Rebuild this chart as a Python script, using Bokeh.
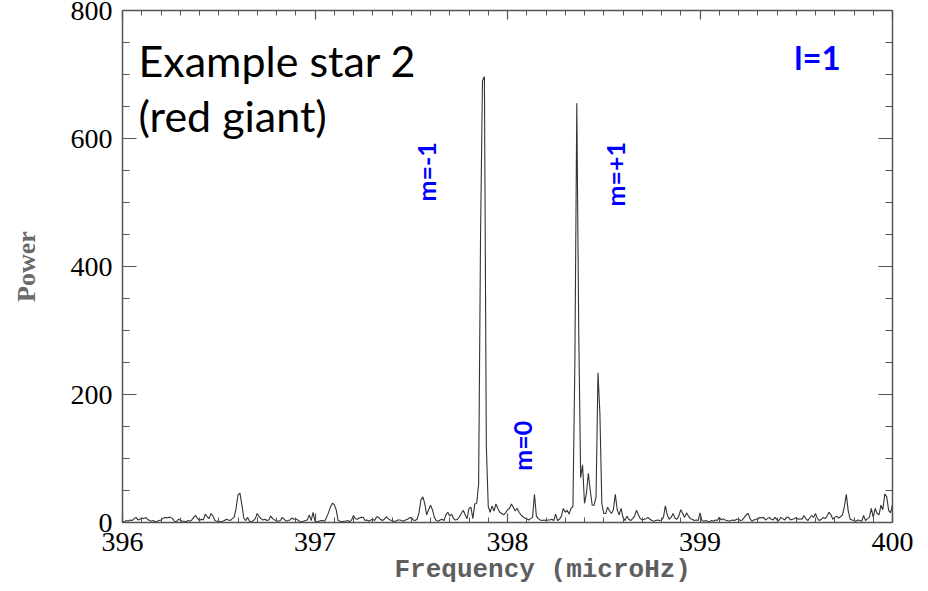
import math
import numpy as np
from bokeh.plotting import figure
from bokeh.models import (Range1d, LinearAxis, Label, SingleIntervalTicker,
                          ColumnDataSource, Title, CustomJSTickFormatter)
from bokeh.embed import file_html
from bokeh.resources import INLINE

# ---- data ----
freq_start = 396.0
freq_stop = 400.0

# power, one row per 0.1 microHz (10 samples each), starting at 396.00
power = [
    2, 1, 3, 2, 4, 3, 6, 8, 4, 5,            # 396.0x
    7, 6, 8, 5, 3, 2, 3, 1, 2, 3,            # 396.1x
    4, 6, 8, 7, 8, 8, 6, 2, 1, 5,            # 396.2x
    4, 2, 2, 1, 3, 2, 4, 8, 11, 6,           # 396.3x
    3, 5, 4, 13, 9, 6, 14, 10, 3, 2,         # 396.4x
    2, 1, 2, 3, 5, 4, 3, 6, 8, 22,           # 396.5x
    43, 46, 28, 7, 3, 8, 2, 1, 3, 6,         # 396.6x
    14, 9, 6, 4, 5, 3, 4, 10, 6, 4,          # 396.7x
    3, 2, 3, 8, 5, 2, 3, 4, 7, 5,            # 396.8x
    6, 4, 2, 1, 2, 3, 4, 12, 3, 16,          # 396.9x
    2, 1, 2, 3, 3, 2, 8, 15, 24, 30,         # 397.0x
    28, 20, 3, 2, 1, 2, 2, 3, 1, 4,          # 397.1x
    11, 6, 5, 7, 8, 8, 3, 4, 2, 4,           # 397.2x
    5, 3, 9, 8, 5, 3, 5, 9, 6, 4,            # 397.3x
    3, 2, 2, 4, 4, 3, 2, 4, 5, 7,            # 397.4x
    8, 4, 3, 5, 15, 35, 40, 30, 12, 20,      # 397.5x
    27, 20, 8, 3, 2, 4, 5, 3, 12, 16,        # 397.6x
    10, 13, 6, 4, 5, 9, 14, 19, 12, 6,       # 397.7x
    22, 24, 6, 29, 30, 60, 450, 690, 697, 120,  # 397.8x
    25, 16, 26, 18, 29, 22, 16, 14, 12, 15,  # 397.9x
    20, 22, 29, 24, 18, 22, 16, 12, 9, 7,    # 398.0x
    6, 4, 6, 8, 44, 10, 6, 4, 3, 4,          # 398.1x
    3, 4, 4, 5, 3, 13, 3, 5, 10, 22,         # 398.2x
    16, 19, 13, 22, 25, 250, 655, 300, 70, 90,  # 398.3x
    30, 45, 77, 50, 27, 27, 40, 234, 170, 30,   # 398.4x
    14, 14, 24, 18, 14, 20, 44, 20, 12, 22,  # 398.5x
    8, 3, 10, 5, 3, 6, 10, 19, 12, 6,        # 398.6x
    4, 5, 6, 8, 5, 3, 2, 3, 4, 3,            # 398.7x
    4, 8, 26, 12, 5, 8, 14, 7, 5, 10,        # 398.8x
    20, 14, 8, 15, 10, 6, 5, 3, 4, 3,        # 398.9x
    15, 3, 2, 3, 2, 1, 3, 2, 4, 3,           # 399.0x
    8, 4, 6, 4, 3, 2, 3, 4, 3, 5,            # 399.1x
    5, 3, 4, 8, 12, 14, 6, 2, 4, 5,          # 399.2x
    5, 8, 7, 8, 4, 6, 8, 5, 4, 8,            # 399.3x
    4, 3, 8, 6, 4, 8, 8, 4, 5, 6,            # 399.4x
    8, 5, 6, 5, 11, 6, 3, 7, 11, 8,          # 399.5x
    14, 6, 3, 5, 8, 6, 10, 16, 12, 5,        # 399.6x
    8, 10, 7, 9, 12, 25, 44, 18, 5, 4,       # 399.7x
    3, 2, 4, 3, 2, 11, 3, 6, 8, 22,          # 399.8x
    8, 22, 14, 12, 27, 20, 45, 40, 19, 15,   # 399.9x
    28,                                      # 400.00
]

freq = np.round(np.linspace(freq_start, freq_stop, len(power)), 4)

x_ticks_interval = 1
y_ticks_interval = 200

x_title = "Frequency (microHz)"
y_title = "Power"
title_lines = ["Example star 2", "(red giant)"]
degree_label = "l=1"
m_labels = ["m=-1", "m=0", "m=+1"]
m_label_x = [397.579, 398.073, 398.561]
m_label_y = [548, 120, 544]

# ---- figure ----
p = figure(width=928, height=591,
           x_range=Range1d(396, 400), y_range=Range1d(0, 800),
           output_backend="svg", toolbar_location=None,
           min_border_left=122, min_border_right=36,
           min_border_top=10, min_border_bottom=69)
p.grid.visible = False
p.outline_line_color = None
p.background_fill_color = "white"
p.border_fill_color = "white"

src = ColumnDataSource(dict(f=freq, pw=power))
p.line("f", "pw", source=src, line_color="#333333", line_width=1.1)

xt = SingleIntervalTicker(interval=x_ticks_interval, num_minor_ticks=10)
yt = SingleIntervalTicker(interval=y_ticks_interval, num_minor_ticks=4)

def style(ax, labels=True, xaxis=True):
    ax.ticker = xt if xaxis else yt
    ax.axis_line_color = "#555555"
    ax.axis_line_width = 1.5
    ax.major_tick_line_color = "#555555"
    ax.minor_tick_line_color = "#555555"
    ax.major_tick_out = 0
    ax.minor_tick_out = 0
    ax.major_tick_in = 9 if xaxis else 14
    ax.minor_tick_in = 5 if xaxis else 7
    ax.major_tick_line_width = 1.2
    ax.minor_tick_line_width = 1.0
    if labels:
        ax.major_label_text_font = "Liberation Serif"
        ax.major_label_text_font_size = "28px"
        ax.major_label_text_color = "black"
        ax.major_label_standoff = 10
    else:
        ax.formatter = CustomJSTickFormatter(code="return ''")
        ax.major_label_standoff = 0

bottom_axis = p.xaxis[0]
left_axis = p.yaxis[0]
style(bottom_axis, True, True)
style(left_axis, True, False)

top = LinearAxis()
style(top, False, True)
p.add_layout(top, "above")
right = LinearAxis()
style(right, False, False)
p.add_layout(right, "right")

# y axis title (left axis only)
left_axis.axis_label = y_title
left_axis.axis_label_text_font = "Liberation Serif"
left_axis.axis_label_text_font_style = "bold"
left_axis.axis_label_text_font_size = "26px"
left_axis.axis_label_text_color = "#6a6a6a"
left_axis.axis_label_standoff = 27

# x axis title as a title below the axis, shifted right like the original
p.add_layout(Title(text=x_title, align="left", offset=272, standoff=3,
                   vertical_align="top",
                   text_font="Liberation Mono", text_font_style="bold",
                   text_font_size="26px", text_color="#5e5e5e"), "below")

# annotations
p.add_layout(Label(x=396.083, y=722, text=title_lines[0], text_font="Lato",
                   text_font_size="43px", text_color="black",
                   text_align="left", text_baseline="alphabetic"))
p.add_layout(Label(x=396.083, y=636, text=title_lines[1], text_font="Lato",
                   text_font_size="43px", text_color="black",
                   text_align="left", text_baseline="alphabetic"))
p.add_layout(Label(x=399.61, y=728, text=degree_label, text_font="Lato",
                   text_font_style="bold", text_font_size="33px",
                   text_color="#0000ff", text_align="center",
                   text_baseline="alphabetic"))
for t, xx, yy in zip(m_labels, m_label_x, m_label_y):
    p.add_layout(Label(x=xx, y=yy, text=t, angle=math.pi / 2, text_font="Lato",
                       text_font_style="bold", text_font_size="25px",
                       text_color="#0000ff", text_align="center",
                       text_baseline="middle"))

open("out.html", "w").write(file_html(p, INLINE))
